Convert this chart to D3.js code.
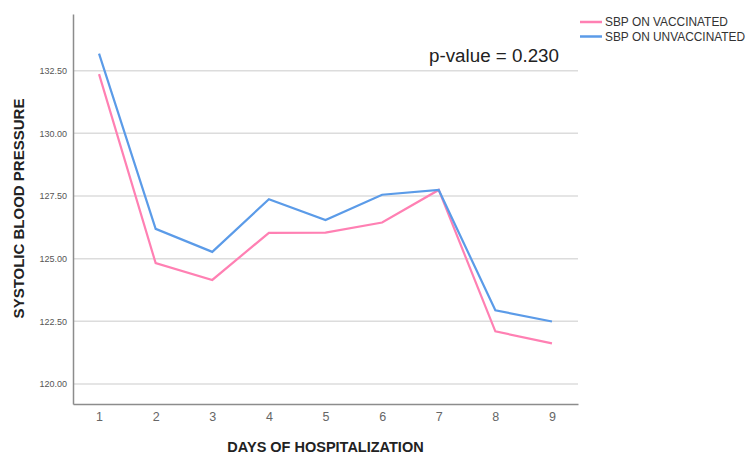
<!DOCTYPE html>
<html>
<head>
<meta charset="utf-8">
<script src="https://cdn.jsdelivr.net/npm/d3@7"></script>
<style>
  body { margin: 0; background: #fff; }
  svg { font-family: "Liberation Sans", Arial, sans-serif; display: block; }
</style>
</head>
<body>
<div id="wrapper"></div>
<script>
const days = [1, 2, 3, 4, 5, 6, 7, 8, 9]
const vaccinated = [132.36, 124.82, 124.15, 126.03, 126.04, 126.44, 127.74, 122.10, 121.62]
const unvaccinated = [133.18, 126.19, 125.27, 127.37, 126.54, 127.55, 127.74, 122.94, 122.49]
const yTicks = [120, 122.5, 125, 127.5, 130, 132.5]
const seriesNames = ["SBP ON VACCINATED", "SBP ON UNVACCINATED"]
const seriesColors = ["#ff80b3", "#5b9be8"]

function drawChart() {
    const dimensions = {
        width: 746,
        height: 454,
        left: 73,
        right: 578,
        top: 14,
        bottom: 404,
    }

    const svg = d3.select("#wrapper")
        .append("svg")
        .attr("width", dimensions.width)
        .attr("height", dimensions.height)

    const xScaler = d3.scaleLinear()
        .domain([0.54, 9.46])
        .range([dimensions.left, dimensions.right])

    const yScaler = d3.scaleLinear()
        .domain([119.2, 134.76])
        .range([dimensions.bottom, dimensions.top])

    // grid lines
    svg.append("g")
        .selectAll("line")
        .data(yTicks)
        .enter()
        .append("line")
        .attr("x1", dimensions.left)
        .attr("x2", dimensions.right)
        .attr("y1", d => yScaler(d))
        .attr("y2", d => yScaler(d))
        .attr("stroke", "#dcdcdc")
        .attr("stroke-width", 1.5)

    const yAxis = svg.append("g")
        .attr("transform", `translate(${dimensions.left},0)`)
        .call(d3.axisLeft(yScaler).tickValues(yTicks).tickSize(0).tickPadding(6).tickFormat(d3.format(".2f")))
    yAxis.select(".domain").attr("stroke", "#8c8c8c").attr("stroke-width", 1.5)
    yAxis.selectAll("text").attr("font-size", "9px").attr("fill", "#555")

    const xAxis = svg.append("g")
        .attr("transform", `translate(0,${dimensions.bottom})`)
        .call(d3.axisBottom(xScaler).tickValues(days).tickSize(0).tickPadding(8).tickFormat(d3.format("d")))
    xAxis.select(".domain").attr("stroke", "#8c8c8c").attr("stroke-width", 1.5)
    xAxis.selectAll("text").attr("font-size", "12.5px").attr("fill", "#666")

    const lineGen = d3.line()
        .x((d, i) => xScaler(days[i]))
        .y(d => yScaler(d))

    ;[vaccinated, unvaccinated].forEach((series, i) => {
        svg.append("path")
            .datum(series)
            .attr("d", lineGen)
            .attr("fill", "none")
            .attr("stroke", seriesColors[i])
            .attr("stroke-width", 2.2)
    })

    svg.append("text")
        .attr("x", 325.5)
        .attr("y", 451.5)
        .attr("text-anchor", "middle")
        .attr("font-size", "14.5px")
        .attr("font-weight", "bold")
        .attr("fill", "#222")
        .text("DAYS OF HOSPITALIZATION")

    svg.append("text")
        .attr("transform", `translate(24,208.5) rotate(-90)`)
        .attr("text-anchor", "middle")
        .attr("font-size", "15px")
        .attr("font-weight", "bold")
        .attr("fill", "#222")
        .text("SYSTOLIC BLOOD PRESSURE")

    svg.append("text")
        .attr("x", 559)
        .attr("y", 62)
        .attr("text-anchor", "end")
        .attr("font-size", "18.8px")
        .attr("fill", "#222")
        .text("p-value = 0.230")

    const legend = svg.append("g")
    seriesNames.forEach((name, i) => {
        const y = 22 + i * 14.5
        legend.append("line")
            .attr("x1", 580).attr("x2", 602)
            .attr("y1", y).attr("y2", y)
            .attr("stroke", seriesColors[i])
            .attr("stroke-width", 2.5)
        legend.append("text")
            .attr("x", 605)
            .attr("y", y + 4)
            .attr("font-size", "11.9px")
            .attr("fill", "#333")
            .text(name)
    })
}

drawChart()
</script>
</body>
</html>
